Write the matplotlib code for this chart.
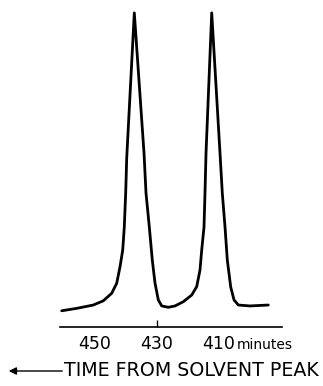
import matplotlib
matplotlib.use("Agg")
import matplotlib.pyplot as plt
from matplotlib.patches import FancyArrowPatch

# retention time (minutes from solvent peak) and detector response (arbitrary)
time_min = [460.74, 455.9, 450.55, 447.32, 444.61, 443.0, 441.94, 441.06, 440.55, 440.1,
            439.77, 437.32, 434.19, 433.55, 432.48, 431.52, 430.65, 429.58, 428.48, 426.35,
            424.19, 421.52, 418.81, 417.19, 416.13, 415.58, 414.84, 414.52, 414.19, 412.35,
            409.68, 408.94, 408.06, 407.32, 406.23, 405.16, 403.77, 400.0, 394.1]
response = [1.4, 2.2, 3.3, 4.7, 7.2, 10.5, 15.9, 21.5, 29.1, 40.4,
            52.0, 100.0, 53.6, 40.4, 29.1, 18.2, 10.6, 5.0, 3.0, 2.55,
            3.0, 4.4, 6.6, 9.4, 14.9, 21.5, 29.1, 40.4, 53.6, 100.0,
            53.6, 40.4, 29.1, 18.2, 9.3, 5.0, 3.3, 3.0, 3.3]

tick_pos = [450, 430, 410]
tick_lab = ["450", "430", "410"]

fig = plt.figure(figsize=(3.23, 3.86), dpi=100)
ax = fig.add_axes([60/323, 1 - 327/386, 222/323, 322/386])

ax.plot(time_min, response, color="black", lw=2.0,
        solid_joinstyle="round", solid_capstyle="round")
ax.set_xlim(461.29, 389.68)   # time runs to the left
ax.set_ylim(-3.97, 102.6)

for s in ["top", "right", "left"]:
    ax.spines[s].set_visible(False)
ax.spines["bottom"].set_linewidth(1.2)
ax.set_yticks([])
ax.set_xticks(tick_pos)
ax.set_xticklabels(tick_lab, fontsize=12.5)
ax.tick_params(axis="x", length=0, pad=6)
# single small mark at 430 only
ax.xaxis.remove_overlapping_locs = False
ax.set_xticks([430], minor=True)
ax.tick_params(axis="x", which="minor", direction="in", length=5, width=1)

fig.text(237/323, 1 - 349/386, "minutes", fontsize=10, va="baseline", ha="left")
fig.text(64/323, 1 - 370/386, "TIME FROM SOLVENT PEAK", fontsize=13.7,
         va="center", ha="left")
fig.add_artist(FancyArrowPatch(
    (65/323, 1 - 371/386), (6/323, 1 - 371/386), transform=fig.transFigure,
    arrowstyle="-|>", mutation_scale=11, lw=1.0, color="black"))

fig.savefig("out.png", dpi=100)
